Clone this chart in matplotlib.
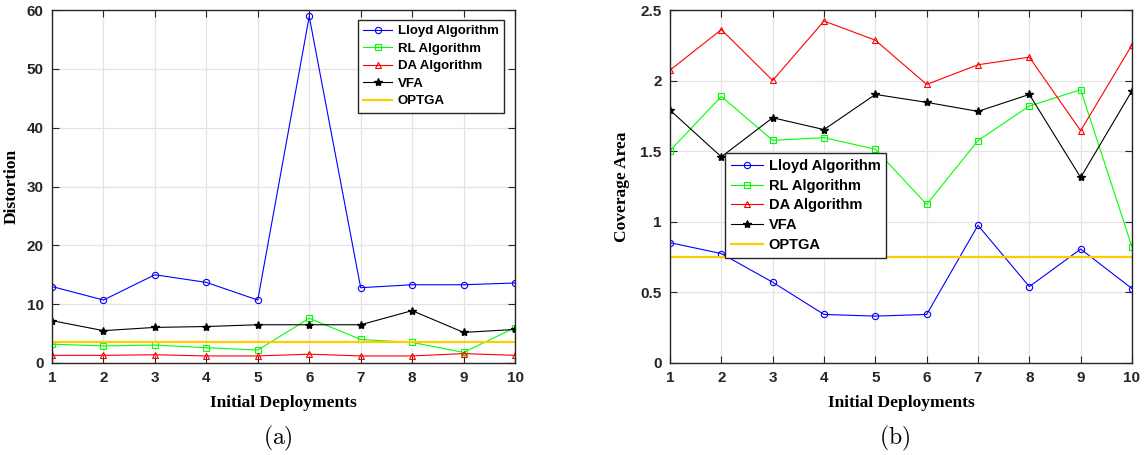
import matplotlib
matplotlib.use('Agg')
import matplotlib.pyplot as plt

# data
deployments = [1, 2, 3, 4, 5, 6, 7, 8, 9, 10]

dist_lloyd = [13.0, 10.7, 15.0, 13.7, 10.7, 58.9, 12.8, 13.3, 13.3, 13.6]
dist_rl = [3.2, 2.9, 3.05, 2.6, 2.2, 7.6, 4.0, 3.5, 1.8, 6.0]
dist_da = [1.3, 1.3, 1.4, 1.2, 1.2, 1.5, 1.2, 1.2, 1.6, 1.3]
dist_vfa = [7.2, 5.5, 6.05, 6.2, 6.5, 6.5, 6.5, 8.9, 5.2, 5.7]
dist_optga = 3.6

cov_lloyd = [0.852, 0.775, 0.572, 0.344, 0.332, 0.344, 0.975, 0.541, 0.807, 0.527]
cov_rl = [1.504, 1.888, 1.577, 1.596, 1.514, 1.123, 1.575, 1.820, 1.935, 0.822]
cov_da = [2.074, 2.361, 2.001, 2.422, 2.286, 1.973, 2.112, 2.166, 1.645, 2.253]
cov_vfa = [1.791, 1.460, 1.737, 1.653, 1.902, 1.846, 1.782, 1.902, 1.314, 1.928]
cov_optga = 0.75

labels = ['Lloyd Algorithm', 'RL Algorithm', 'DA Algorithm', 'VFA', 'OPTGA']

plt.rcParams['mathtext.fontset'] = 'cm'
axcol = '#262626'
tickfont = {'family': 'Liberation Sans', 'weight': 'bold', 'size': 11}
labfont = {'family': 'Liberation Serif', 'weight': 'bold', 'size': 12.5}

W, H = 1145, 455
fig = plt.figure(figsize=(W / 100, H / 100), dpi=100)


def px_axes(left, top, right, bottom):
    return fig.add_axes([left / W, 1 - bottom / H, (right - left) / W, (bottom - top) / H])


def draw(ax, lloyd, rl, da, vfa, optga, ylim, yticks, yticklabels, ylabel, ylabx, legsize, legpos, legloc):
    ax.plot(deployments, lloyd, color='#0000ff', lw=0.8, marker='o', ms=4.5, mfc='none', mew=0.8)
    ax.plot(deployments, rl, color='#00ff00', lw=0.8, marker='s', ms=3.8, mfc='none', mew=0.8)
    ax.plot(deployments, da, color='#ff0000', lw=0.8, marker='^', ms=5, mfc='none', mew=0.8)
    ax.plot(deployments, vfa, color='black', lw=0.8, marker='*', ms=6)
    ax.plot([deployments[0], deployments[-1]], [optga, optga], color='#ffcc00', lw=1.6)
    ax.set_xlim(1, 10)
    ax.set_ylim(*ylim)
    ax.set_xticks(deployments)
    ax.set_xticklabels([str(d) for d in deployments], fontdict=tickfont, color=axcol)
    ax.set_yticks(yticks)
    ax.set_yticklabels(yticklabels, fontdict=tickfont, color=axcol)
    ax.grid(True, color='#e3e3e3', lw=0.9)
    ax.set_axisbelow(True)
    ax.tick_params(direction='in', length=5, width=0.8, color=axcol, top=True, right=True, pad=6)
    for s in ax.spines.values():
        s.set_color(axcol)
        s.set_linewidth(1.0)
    ax.set_xlabel('Initial Deployments', fontdict=labfont, labelpad=7)
    ax.set_ylabel(ylabel, fontdict=labfont)
    ax.yaxis.set_label_coords(ylabx, 0.5)
    leg = ax.legend(labels, loc=legloc, bbox_to_anchor=legpos, borderaxespad=0,
                    prop={'family': 'Liberation Sans', 'weight': 'bold', 'size': legsize},
                    fancybox=False, framealpha=1, edgecolor=axcol, handlelength=2.2,
                    labelspacing=0.4, borderpad=0.4, handletextpad=0.4)
    leg.get_frame().set_linewidth(1.0)


ax1 = px_axes(52, 10, 515, 363)
draw(ax1, dist_lloyd, dist_rl, dist_da, dist_vfa, dist_optga, (0, 60),
     [0, 10, 20, 30, 40, 50, 60], ['0', '10', '20', '30', '40', '50', '60'],
     'Distortion', -0.07, 9.5, (0.976, 0.972), 'upper right')

ax2 = px_axes(670, 10, 1132, 363)
draw(ax2, cov_lloyd, cov_rl, cov_da, cov_vfa, cov_optga, (0, 2.5),
     [0, 0.5, 1, 1.5, 2, 2.5], ['0', '0.5', '1', '1.5', '2', '2.5'],
     'Coverage Area', -0.087, 10.5, (0.119, 0.595), 'upper left')

fig.text(278 / W, 1 - 438 / H, r'$\mathrm{(a)}$', ha='center', va='center', fontsize=17)
fig.text(895 / W, 1 - 438 / H, r'$\mathrm{(b)}$', ha='center', va='center', fontsize=17)

fig.savefig('out.png', dpi=100)
